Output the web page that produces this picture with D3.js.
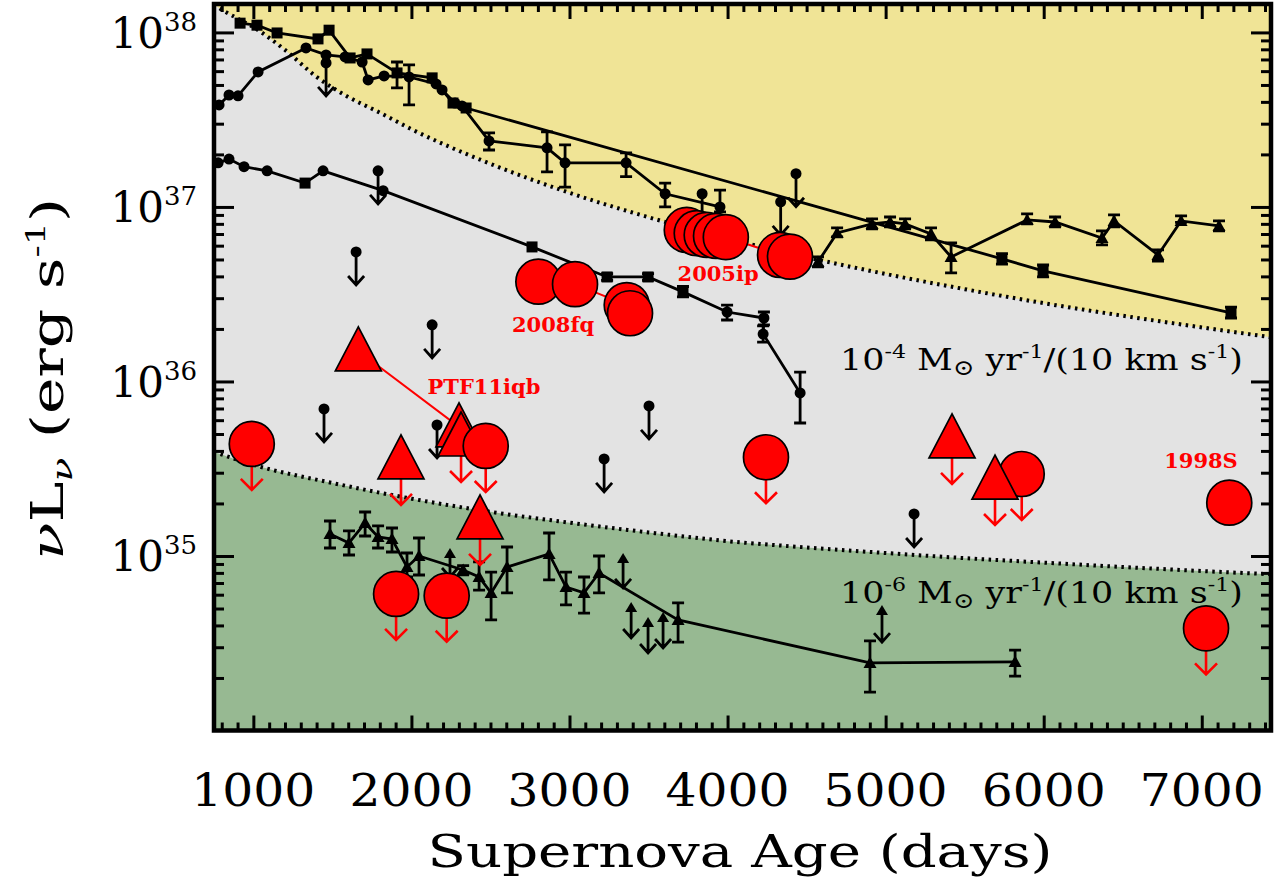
<!DOCTYPE html>
<html><head><meta charset="utf-8">
<script src="https://cdn.jsdelivr.net/npm/d3@7"></script>
<style>body{margin:0;background:#fff}svg{display:block}</style>
</head><body>
<svg id="c" width="1283" height="890"></svg>
<script>
// ---------------- DATA ----------------
const xTicks = [1000, 2000, 3000, 4000, 5000, 6000, 7000];
const yTicks = [1e35, 1e36, 1e37, 1e38];
const yTickExp = ["35", "36", "37", "38"];

// model boundary curves [days, nuLnu]
const upperCurve = [[750,1.445e38],[800,1.349e38],[900,1.202e38],[1000,1.072e38],[1200,7.94e37],[1400,5.56e37],[1600,4.27e37],[1800,3.47e37],[2000,2.79e37],[2500,1.766e37],[3000,1.205e37],[3500,8.73e36],[4000,6.59e36],[4500,5.15e36],[5000,4.13e36],[5500,3.38e36],[6000,2.81e36],[6500,2.38e36],[7000,2.04e36],[7450,1.786e36]];
const lowerCurve = [[750,3.95e35],[1000,3.33e35],[1500,2.62e35],[2000,2.13e35],[2500,1.79e35],[3000,1.552e35],[3500,1.365e35],[4000,1.216e35],[4500,1.119e35],[5000,1.040e35],[5500,9.72e34],[6000,9.16e34],[6500,8.65e34],[7000,8.20e34],[7450,7.85e34]];

// black comparison light curves [days, L, lo, hi]
const s1 = [[916,1.13e38],[1023,1.10e38],[1150,9.93e37],[1409,9.18e37],[1479,1.03e38],[1612,7.14e37],[1719,7.53e37],[1909,5.86e37,4.81e37,6.77e37],[2131,5.49e37],[2263,3.94e37],[2346,3.69e37],[5736,5.04e36,4.70e36,5.40e36],[5996,4.30e36,3.97e36,4.65e36],[7185,2.47e36,2.31e36,2.67e36]];
const s2 = [[783,3.84e37],[846,4.38e37],[903,4.33e37],[1030,5.94e37],[1333,8.15e37],[1460,7.43e37],[1580,7.24e37],[1688,6.77e37],[1726,5.34e37],[1827,5.63e37],[1985,5.56e37,3.84e37,6.51e37],[2156,5.07e37],[2194,4.68e37],[2276,3.94e37],[2320,3.79e37],[2491,2.39e37,2.12e37,2.66e37],[2858,2.18e37,1.59e37,2.69e37],[2972,1.79e37,1.30e37,2.27e37],[3358,1.79e37,1.49e37,2.04e37],[3605,1.19e37,1.00e37,1.37e37],[3952,1.00e37,9.36e36,1.25e37]];
const s3 = [[4572,4.84e36,4.53e36,5.17e36],[4693,7.10e36,6.73e36,7.58e36],[4914,7.99e36,7.48e36,8.54e36],[5028,8.20e36,7.68e36,8.76e36],[5123,7.99e36,7.48e36,8.54e36],[5287,7.00e36,6.47e36,7.58e36],[5414,5.17e36,4.19e36,6.22e36],[5895,8.42e36,7.99e36,9.12e36],[6072,8.20e36,7.68e36,8.76e36],[6369,6.64e36,6.06e36,7.29e36],[6445,8.31e36,7.68e36,9.00e36],[6723,5.31e36,4.90e36,5.67e36],[6869,8.31e36,8.15e36,8.88e36],[7109,7.78e36,7.29e36,8.31e36]];
const s4 = [[777,1.79e37],[846,1.88e37],[941,1.70e37],[1087,1.61e37],[1327,1.37e37],[1441,1.61e37],[1821,1.24e37],[2763,5.90e36],[3238,3.97e36,3.80e36,4.15e36],[3497,3.97e36,3.80e36,4.15e36],[3718,3.26e36,3.05e36,3.50e36],[3997,2.50e36,2.25e36,2.74e36],[4230,2.31e36,2.11e36,2.50e36],[4225,1.87e36,1.68e36,2.08e36],[4459,8.59e35,5.78e35,1.13e36]];
const s5 = [[1485,1.337e35,1.111e35,1.586e35],[1605,1.187e35,1.013e35,1.391e35],[1707,1.546e35,1.302e35,1.787e35],[1789,1.285e35,1.111e35,1.486e35],[1877,1.251e35,1.054e35,1.447e35],[1972,8.65e34,7.58e34,1.04e35],[2048,1.0e35,7.78e34,1.268e35],[2327,8.31e34,7.8e34,8.8e34],[2428,7.58e34,6.38e34,9.24e34],[2504,6.14e34,4.30e34,8.09e34],[2605,8.65e34,6.14e34,1.126e35],[2871,1.027e35,7.29e34,1.354e35],[2978,6.64e34,5.24e34,8.09e34],[3092,6.14e34,4.71e34,7.58e34],[3187,7.99e34,6.14e34,1.0e35],[3687,4.30e34,3.21e34,5.38e34],[4901,2.44e34,1.66e34,3.26e34],[5819,2.47e34,2.05e34,2.89e34]];
// two-sided limit markers [days, top, bottom]
const doubleLimits = [[2244,1.111e35,7.58e34],[3339,1.04e35,6.56e34],[3390,5.45e34,3.39e34],[3497,4.47e34,2.78e34],[3592,4.78e34,2.97e34],[4977,5.24e34,3.21e34]];
// black upper limits [days, L]
const blackUpper = [[1460,6.69e37],[1789,1.61e37],[1650,5.52e36],[2131,2.11e36],[1447,6.96e35],[2162,5.63e35],[3503,7.24e35],[3219,3.60e35],[5180,1.741e35],[3839,1.19e37],[4336,1.07e37],[4433,1.55e37]];

// red: this work
const sn2005ip = [[3742,7.38e36],[3805,7.07e36],[3868,6.91e36],[3927,6.82e36],[3989,6.71e36],[4332,5.31e36],[4395,5.19e36]];
const sn2008fq = [[2803,3.73e36],[3035,3.61e36],[3362,2.74e36],[3383,2.46e36]];
const ptf11iqb = [[1664,1.496e36,0],[2301,5.49e35,0],[2314,4.87e35,1]];
const sn1998S = [[7174,2.02e35]];
const redCircleLimits = [[990,4.385e35],[1903,6.06e34],[2223,5.92e34],[2470,4.27e35],[4243,3.68e35],[5861,2.95e35],[7027,3.85e34]];
const redTriangleLimits = [[1934,3.60e35],[2434,1.63e35],[5420,4.75e35],[5692,2.76e35]];
const snLabels = [["PTF11iqb",2459,8.48e35],["2005ip",3940,3.77e36],["2008fq",2896,1.92e36],["1998S",6995,3.19e35]];

// ---------------- CHART ----------------
const L = 214, R = 1271, T = 4, B = 730.5;
const YEL = "#F0E496", GRY = "#E3E3E3", GRN = "#97B992";
const x = d3.scaleLinear().domain([751, 7438]).range([L, R]);
const y = d3.scaleLog().domain([1e34, 1.455e38]).range([B, T]);
const svg = d3.select("#c");
const FONT = "DejaVu Serif";

svg.append("defs").append("clipPath").attr("id","pc")
  .append("rect").attr("x",L).attr("y",T).attr("width",R-L).attr("height",B-T);
const g = svg.append("g").attr("clip-path","url(#pc)");

g.append("rect").attr("x",L).attr("y",T).attr("width",R-L).attr("height",B-T).attr("fill",GRY);
g.append("path").datum(upperCurve).attr("fill",YEL)
  .attr("d", d3.area().x(d=>x(d[0])).y0(T-10).y1(d=>y(d[1])).curve(d3.curveMonotoneX));
g.append("path").datum(lowerCurve).attr("fill",GRN)
  .attr("d", d3.area().x(d=>x(d[0])).y0(B+10).y1(d=>y(d[1])).curve(d3.curveMonotoneX));
const cl = d3.line().x(d=>x(d[0])).y(d=>y(d[1])).curve(d3.curveMonotoneX);
[upperCurve, lowerCurve].forEach(c=>{
  g.append("path").datum(c).attr("d",cl).attr("fill","none").attr("stroke","#000")
   .attr("stroke-width",4).attr("stroke-dasharray","2.5,4.5");
});

// black series
const ln = d3.line().x(d=>x(d[0])).y(d=>y(d[1]));
function marker(type, cx, cy){
  if(type==="c") g.append("circle").attr("cx",cx).attr("cy",cy).attr("r",5.5).attr("fill","#000");
  else if(type==="s") g.append("rect").attr("x",cx-5.5).attr("y",cy-5.5).attr("width",11).attr("height",11).attr("fill","#000");
  else g.append("path").attr("d",`M${cx},${cy-6.5}L${cx-6.5},${cy+5}L${cx+6.5},${cy+5}Z`).attr("fill","#000");
}
function series(data, types){
  g.append("path").datum(data).attr("d",ln).attr("fill","none").attr("stroke","#000").attr("stroke-width",2.8);
  data.forEach((d,i)=>{
    const cx=x(d[0]);
    if(d[2]!==undefined){
      const y1=y(d[2]), y2=y(d[3]);
      g.append("path").attr("d",`M${cx},${y1}L${cx},${y2}M${cx-6},${y1}L${cx+6},${y1}M${cx-6},${y2}L${cx+6},${y2}`)
       .attr("stroke","#000").attr("stroke-width",2.8).attr("fill","none");
    }
    marker(typeof types==="string"?types:types[i], cx, y(d[1]));
  });
}
series(s1,"s");
series(s2,"c");
series(s3,"t");
series(s4,["c","c","c","c","s","c","c","s","s","s","s","c","c","c","c"]);
series(s5,"t");

doubleLimits.forEach(d=>{
  const cx=x(d[0]), yt=y(d[1]), yb=y(d[2]);
  g.append("path").attr("d",`M${cx},${yt+6}L${cx},${yb}M${cx-8},${yb-9}L${cx},${yb}L${cx+8},${yb-9}`)
   .attr("stroke","#000").attr("stroke-width",2.8).attr("fill","none");
  g.append("path").attr("d",`M${cx},${yt}L${cx-6},${yt+10}L${cx+6},${yt+10}Z`).attr("fill","#000");
});
blackUpper.forEach(d=>{
  const cx=x(d[0]), cy=y(d[1]), tip=cy+33;
  g.append("path").attr("d",`M${cx},${cy}L${cx},${tip}M${cx-8},${tip-9}L${cx},${tip}L${cx+8},${tip-9}`)
   .attr("stroke","#000").attr("stroke-width",2.8).attr("fill","none");
  g.append("circle").attr("cx",cx).attr("cy",cy).attr("r",5.5).attr("fill","#000");
});

// red symbols
function redArrow(cx, cy){
  const tip=cy+46;
  g.append("path").attr("d",`M${cx},${cy}L${cx},${tip}M${cx-11},${tip-11}L${cx},${tip}L${cx+11},${tip-11}`)
   .attr("stroke","#f00").attr("stroke-width",2.6).attr("fill","none");
}
function redCircle(cx, cy){
  g.append("circle").attr("cx",cx).attr("cy",cy).attr("r",22.5).attr("fill","#f00").attr("stroke","#000").attr("stroke-width",1.7);
}
function redTri(cx, cy){
  g.append("path").attr("d",`M${cx},${cy-24}L${cx-23},${cy+20}L${cx+23},${cy+20}Z`)
   .attr("fill","#f00").attr("stroke","#000").attr("stroke-width",1.7);
}
function redLine(data){
  g.append("path").datum(data).attr("d",ln).attr("fill","none").attr("stroke","#f00").attr("stroke-width",2);
}
redLine(ptf11iqb);
ptf11iqb.forEach(d=>{ if(d[2]) redArrow(x(d[0]),y(d[1])); redTri(x(d[0]),y(d[1])); });
redCircleLimits.forEach(d=>{ redArrow(x(d[0]),y(d[1])); redCircle(x(d[0]),y(d[1])); });
redTriangleLimits.forEach(d=>{ redArrow(x(d[0]),y(d[1])); redTri(x(d[0]),y(d[1])); });
redLine(sn2008fq); sn2008fq.forEach(d=>redCircle(x(d[0]),y(d[1])));
redLine(sn2005ip); sn2005ip.forEach(d=>redCircle(x(d[0]),y(d[1])));
sn1998S.forEach(d=>redCircle(x(d[0]),y(d[1])));

snLabels.forEach(d=>{
  svg.append("text").attr("x",x(d[1])).attr("y",y(d[2])).attr("text-anchor","middle")
    .attr("fill","#f00").style("font-family",FONT).style("font-weight","bold").style("font-size","21px")
    .text(d[0]);
});

// annotations
function massLabel(exp, tx, ty){
  const t = svg.append("text").attr("x",tx).attr("y",ty).style("font-family",FONT).style("font-size","30px").attr("fill","#000")
    .attr("textLength",403).attr("lengthAdjust","spacingAndGlyphs");
  t.append("tspan").text("10");
  t.append("tspan").attr("dy",-12).style("font-size","19px").text("-"+exp);
  t.append("tspan").attr("dy",12).text(" M");
  t.append("tspan").attr("dy",5).style("font-size","22px").text("⊙");
  t.append("tspan").attr("dy",-5).text(" yr");
  t.append("tspan").attr("dy",-12).style("font-size","19px").text("-1");
  t.append("tspan").attr("dy",12).text("/(10 km s");
  t.append("tspan").attr("dy",-12).style("font-size","19px").text("-1");
  t.append("tspan").attr("dy",12).text(")");
}
massLabel("4", 840, 370);
massLabel("6", 840, 603);

// frame
svg.append("rect").attr("x",L).attr("y",T).attr("width",R-L).attr("height",B-T)
  .attr("fill","none").attr("stroke","#000").attr("stroke-width",4.5);

// ticks
const xMinor = d3.range(800, 7440, 100).filter(v=>v%1000!==0);
const yMinor = [];
[34,35,36,37,38].forEach(k=>{ for(let m=2;m<=9;m++){ const v=m*Math.pow(10,k); if(v<1.455e38) yMinor.push(v);} });
function tk(axisFn, scale, vals, size, tr){
  const a = svg.append("g").attr("transform",tr)
    .call(axisFn(scale).tickValues(vals).tickSize(-size).tickSizeOuter(0).tickFormat(""));
  a.select(".domain").remove();
  a.selectAll("line").attr("stroke","#000").attr("stroke-width",3);
}
tk(d3.axisBottom, x, xTicks, 15, `translate(0,${B})`);
tk(d3.axisBottom, x, xMinor, 8, `translate(0,${B})`);
tk(d3.axisTop, x, xTicks, 15, `translate(0,${T})`);
tk(d3.axisTop, x, xMinor, 8, `translate(0,${T})`);
tk(d3.axisLeft, y, yTicks, 20, `translate(${L},0)`);
tk(d3.axisLeft, y, yMinor, 10, `translate(${L},0)`);
tk(d3.axisRight, y, yTicks, 20, `translate(${R},0)`);
tk(d3.axisRight, y, yMinor, 10, `translate(${R},0)`);

// tick labels
xTicks.forEach(v=>{
  svg.append("text").attr("x",x(v)).attr("y",806).attr("text-anchor","middle")
    .attr("textLength",124).attr("lengthAdjust","spacingAndGlyphs")
    .style("font-family",FONT).style("font-size","45px").text(v);
});
yTicks.forEach((v,i)=>{
  const t = svg.append("text").attr("x",197).attr("y",y(v)+15.5).attr("text-anchor","end")
    .style("font-family",FONT).style("font-size","42px");
  t.append("tspan").text("10");
  t.append("tspan").attr("dy",-17).style("font-size","26px").text(yTickExp[i]);
});

// axis titles
svg.append("text").attr("x",740).attr("y",867).attr("text-anchor","middle")
  .attr("textLength",625).attr("lengthAdjust","spacingAndGlyphs")
  .style("font-family",FONT).style("font-size","44px").text("Supernova Age (days)");
const yt = svg.append("text").attr("transform","translate(63,379) rotate(-90)").attr("text-anchor","middle")
  .attr("textLength",362).attr("lengthAdjust","spacingAndGlyphs")
  .style("font-family",FONT).style("font-size","44px");
yt.append("tspan").style("font-style","italic").text("ν");
yt.append("tspan").text("L");
yt.append("tspan").attr("dy",9).style("font-size","28px").style("font-style","italic").text("ν");
yt.append("tspan").attr("dy",-9).text(" (erg s");
yt.append("tspan").attr("dy",-18).style("font-size","26px").text("-1");
yt.append("tspan").attr("dy",18).text(")");
</script>
</body></html>
